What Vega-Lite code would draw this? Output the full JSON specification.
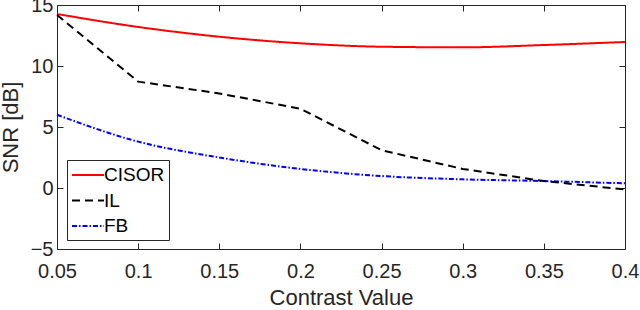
{
  "$schema": "https://vega.github.io/schema/vega-lite/v6.json",
  "width": 568,
  "height": 244,
  "autosize": {"type": "none"},
  "padding": {"left": 57, "top": 5, "right": 15, "bottom": 61},
  "background": "white",
  "config": {
    "font": "Liberation Sans",
    "view": {"stroke": null},
    "axis": {
      "domainColor": "#262626",
      "tickColor": "#262626",
      "labelColor": "#262626",
      "titleColor": "#262626",
      "grid": false,
      "tickSize": -6,
      "labelFontSize": 20,
      "titleFontSize": 22,
      "titleFontWeight": "normal",
      "domainWidth": 1,
      "tickWidth": 1
    }
  },
  "data": {
    "values": [
      {"c": 0.05, "snr": 14.26, "method": "CISOR"},
      {"c": 0.1, "snr": 13.2, "method": "CISOR"},
      {"c": 0.15, "snr": 12.4, "method": "CISOR"},
      {"c": 0.2, "snr": 11.86, "method": "CISOR"},
      {"c": 0.25, "snr": 11.58, "method": "CISOR"},
      {"c": 0.3, "snr": 11.53, "method": "CISOR"},
      {"c": 0.35, "snr": 11.72, "method": "CISOR"},
      {"c": 0.4, "snr": 11.97, "method": "CISOR"},
      {"c": 0.05, "snr": 14.18, "method": "IL"},
      {"c": 0.1, "snr": 8.72, "method": "IL"},
      {"c": 0.15, "snr": 7.75, "method": "IL"},
      {"c": 0.2, "snr": 6.5, "method": "IL"},
      {"c": 0.25, "snr": 3.1, "method": "IL"},
      {"c": 0.3, "snr": 1.56, "method": "IL"},
      {"c": 0.35, "snr": 0.57, "method": "IL"},
      {"c": 0.4, "snr": -0.12, "method": "IL"},
      {"c": 0.05, "snr": 6.0, "method": "FB"},
      {"c": 0.1, "snr": 3.8, "method": "FB"},
      {"c": 0.15, "snr": 2.5, "method": "FB"},
      {"c": 0.2, "snr": 1.56, "method": "FB"},
      {"c": 0.25, "snr": 0.98, "method": "FB"},
      {"c": 0.3, "snr": 0.71, "method": "FB"},
      {"c": 0.35, "snr": 0.57, "method": "FB"},
      {"c": 0.4, "snr": 0.38, "method": "FB"}
    ]
  },
  "layer": [
    {
      "encoding": {
        "x": {
          "field": "c", "type": "quantitative",
          "scale": {"domain": [0.05, 0.4], "nice": false, "zero": false},
          "axis": {"values": [0.05, 0.1, 0.15, 0.2, 0.25, 0.3, 0.35, 0.4], "format": "~g", "labelPadding": 18, "title": "Contrast Value", "titlePadding": 6, "labelFlush": false}
        },
        "y": {
          "field": "snr", "type": "quantitative",
          "scale": {"domain": [-5, 15], "nice": false},
          "axis": {"values": [-5, 0, 5, 10, 15], "format": "~g", "labelPadding": 10, "title": "SNR [dB]", "titlePadding": 8, "labelFlush": false}
        }
      },
      "layer": [
        {
          "transform": [{"filter": "datum.method !== 'IL'"}],
          "mark": {"type": "line", "strokeWidth": 2, "interpolate": "monotone"},
          "encoding": {
            "color": {
              "field": "method", "type": "nominal",
              "scale": {"domain": ["CISOR", "IL", "FB"], "range": ["#ff0000", "#000000", "#0000ff"]},
              "legend": {
                "orient": "none", "legendX": 10, "legendY": 155,
                "title": null, "symbolType": "M-1.6,0H1.6", "symbolSize": 400,
                "symbolOffset": 6, "symbolFillColor": "transparent",
                "symbolStrokeWidth": 2, "labelFontSize": 19, "labelColor": "#000000",
                "labelOffset": 5, "rowPadding": 4.5, "padding": 4,
                "strokeColor": "#262626", "fillColor": "white", "cornerRadius": 0
              }
            },
            "strokeDash": {
              "field": "method", "type": "nominal",
              "scale": {"domain": ["CISOR", "IL", "FB"], "range": [[1, 0], [8, 5], [5, 2, 1.5, 2]]},
              "legend": null
            }
          }
        },
        {
          "transform": [{"filter": "datum.method === 'IL'"}],
          "mark": {"type": "line", "strokeWidth": 2, "interpolate": "linear"},
          "encoding": {
            "color": {"field": "method", "type": "nominal"},
            "strokeDash": {"field": "method", "type": "nominal", "legend": null}
          }
        }
      ]
    },
    {
      "mark": {"type": "line", "opacity": 0},
      "encoding": {
        "x": {
          "field": "c", "type": "quantitative",
          "scale": {"domain": [0.05, 0.4], "nice": false, "zero": false},
          "axis": {"orient": "top", "values": [0.05, 0.1, 0.15, 0.2, 0.25, 0.3, 0.35, 0.4], "labels": false, "title": null}
        },
        "y": {
          "field": "snr", "type": "quantitative",
          "scale": {"domain": [-5, 15], "nice": false},
          "axis": {"orient": "right", "values": [-5, 0, 5, 10, 15], "labels": false, "title": null}
        },
        "detail": {"field": "method"}
      }
    }
  ],
  "resolve": {"axis": {"x": "independent", "y": "independent"}}
}
